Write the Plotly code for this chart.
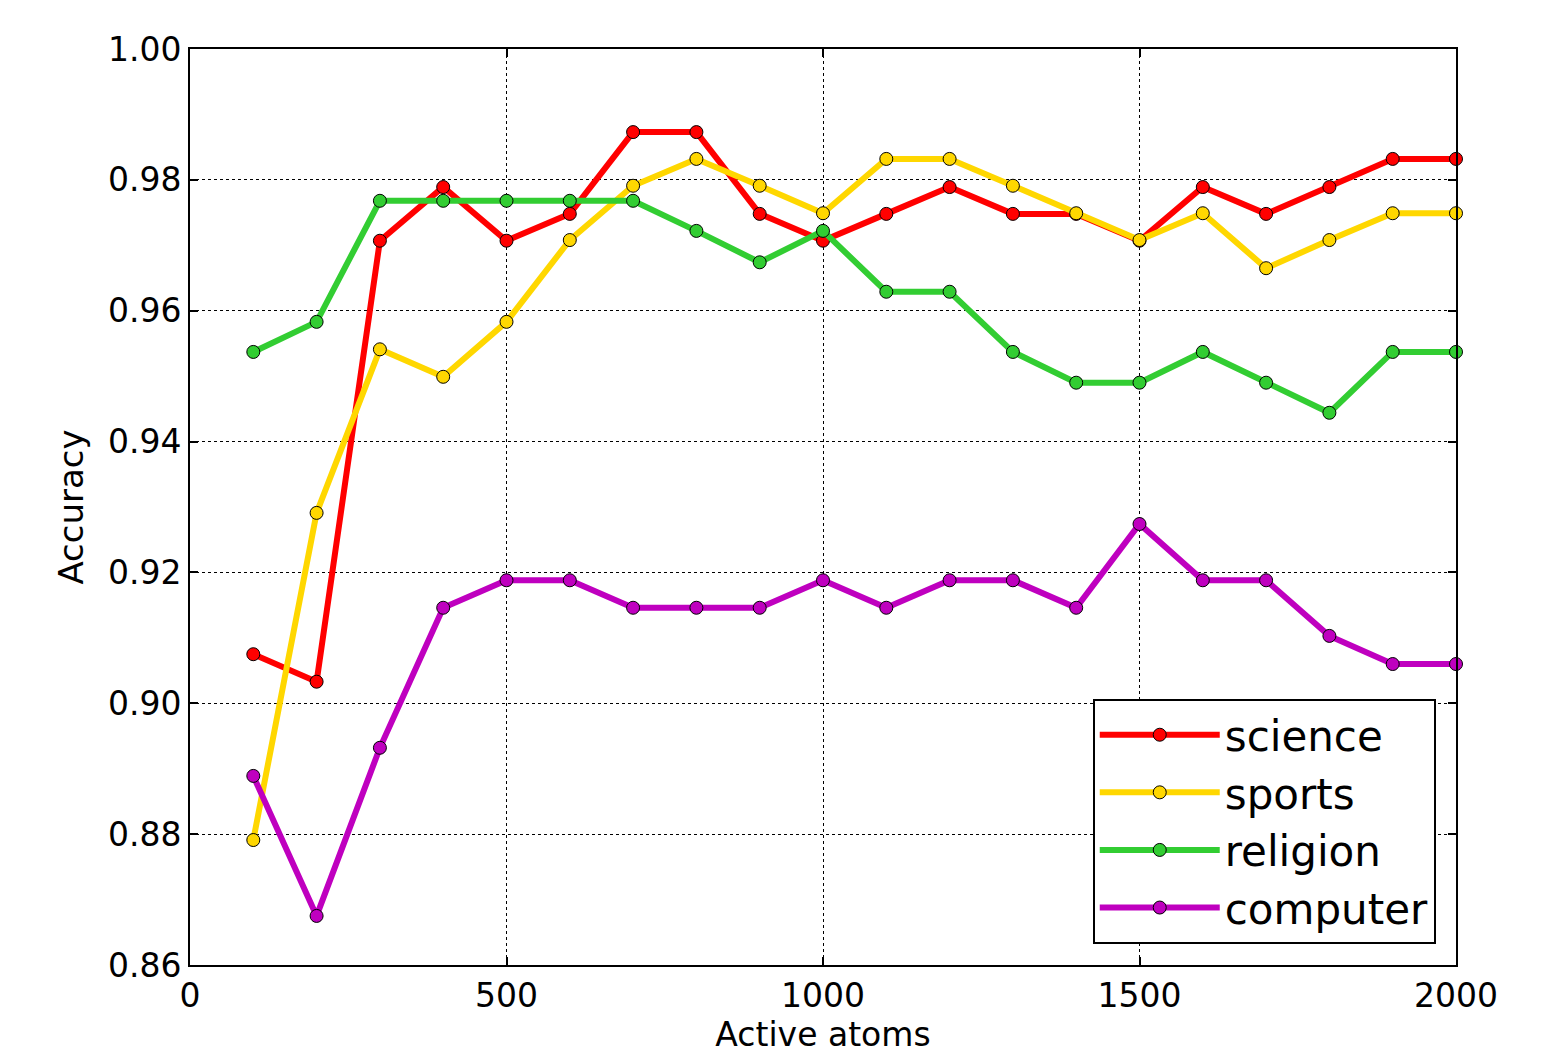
import plotly.graph_objects as go

atoms = [100, 200, 300, 400, 500, 600, 700, 800, 900, 1000,
         1100, 1200, 1300, 1400, 1500, 1600, 1700, 1800, 1900, 2000]

science = [0.9075, 0.9033, 0.9707, 0.9789, 0.9707, 0.9748, 0.9873, 0.9873, 0.9748, 0.9707,
           0.9748, 0.9789, 0.9748, 0.9748, 0.9707, 0.9789, 0.9748, 0.9789, 0.9832, 0.9832]
sports = [0.8791, 0.9291, 0.9541, 0.9499, 0.9583, 0.9708, 0.9791, 0.9832, 0.9791, 0.9749,
          0.9832, 0.9832, 0.9791, 0.9749, 0.9708, 0.9749, 0.9665, 0.9708, 0.9749, 0.9749]
religion = [0.9537, 0.9583, 0.9768, 0.9768, 0.9768, 0.9768, 0.9768, 0.9722, 0.9674, 0.9722,
            0.9629, 0.9629, 0.9537, 0.9490, 0.9490, 0.9537, 0.9490, 0.9444, 0.9537, 0.9537]
computer = [0.8889, 0.8675, 0.8932, 0.9146, 0.9188, 0.9188, 0.9146, 0.9146, 0.9146, 0.9188,
            0.9146, 0.9188, 0.9188, 0.9146, 0.9274, 0.9188, 0.9188, 0.9103, 0.9060, 0.9060]

series_names = ["science", "sports", "religion", "computer"]
series_values = [science, sports, religion, computer]
series_colors = ["#FF0000", "#FFD700", "#32CD32", "#BF00BF"]

x_ticks = [0, 500, 1000, 1500, 2000]
y_ticks = [0.86, 0.88, 0.90, 0.92, 0.94, 0.96, 0.98, 1.00]

fig = go.Figure()
for name, vals, col in zip(series_names, series_values, series_colors):
    fig.add_trace(go.Scatter(
        x=atoms, y=vals, name=name, mode="lines+markers",
        line=dict(color=col, width=6),
        marker=dict(size=13, color=col, line=dict(color="black", width=1)),
        cliponaxis=False,
    ))

font = "DejaVu Sans, sans-serif"
axis_common = dict(
    showline=True, linecolor="black", linewidth=2, mirror="ticks",
    ticks="inside", ticklen=8, tickwidth=1.5, tickcolor="black",
    showgrid=True, gridcolor="black", gridwidth=1, griddash="dot",
    zeroline=False,
    tickfont=dict(family=font, size=33, color="black"),
)

fig.update_layout(
    width=1560, height=1051,
    margin=dict(l=182, r=112, t=41, b=94),
    paper_bgcolor="white", plot_bgcolor="white",
    font=dict(family=font, color="black"),
    xaxis=dict(range=[0, 2000], tickvals=x_ticks, ticktext=[str(v) for v in x_ticks],
               title=dict(text="Active atoms", font=dict(family=font, size=33), standoff=4),
               **axis_common),
    yaxis=dict(range=[0.86, 1.00], tickvals=y_ticks, ticktext=[f"{v:.2f}" for v in y_ticks],
               title=dict(text="Accuracy", font=dict(family=font, size=34), standoff=14),
               **axis_common),
    legend=dict(
        x=0.984, y=0.023, xanchor="right", yanchor="bottom",
        bgcolor="white", bordercolor="black", borderwidth=2,
        font=dict(family=font, size=42, color="black"),
        itemwidth=120,
    ),
    showlegend=True,
)

fig.write_html("out.html")
